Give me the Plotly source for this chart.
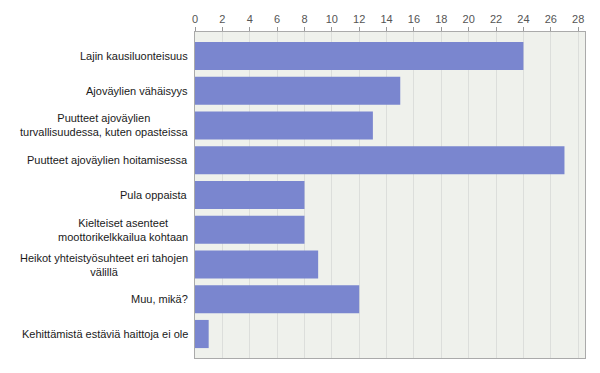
import plotly.graph_objects as go

categories = [
    "Lajin kausiluonteisuus",
    "Ajoväylien vähäisyys",
    "Puutteet ajoväylien<br>turvallisuudessa, kuten opasteissa",
    "Puutteet ajoväylien hoitamisessa",
    "Pula oppaista",
    "Kielteiset asenteet<br>moottorikelkkailua kohtaan",
    "Heikot yhteistyösuhteet eri tahojen<br>välillä",
    "Muu, mikä?",
    "Kehittämistä estäviä haittoja ei ole",
]
values = [24, 15, 13, 27, 8, 8, 9, 12, 1]
tick_values = list(range(0, 29, 2))

fig = go.Figure()
fig.add_trace(go.Bar(
    x=values, y=list(range(len(categories))), orientation="h",
    marker=dict(color="#7a86cf", line=dict(width=0)),
    width=0.81, hoverinfo="skip",
))

for i, c in enumerate(categories):
    fig.add_annotation(
        x=-0.013, xref="paper", y=i, yref="y", text=c, showarrow=False,
        xanchor="right", yanchor="middle", align="center",
        font=dict(family="Liberation Sans, Arial, sans-serif", size=11, color="#1a1a1a"),
    )

fig.update_layout(
    width=592, height=365,
    margin=dict(l=187, r=15, t=24, b=15, autoexpand=False),
    paper_bgcolor="white", plot_bgcolor="#eff1ec",
    showlegend=False,
    font=dict(family="Liberation Sans, Arial, sans-serif", size=11, color="#555555"),
)
fig.update_xaxes(
    side="top", range=[0, 28.5], tickvals=tick_values, automargin=False,
    showgrid=True, gridcolor="#dcdedb", gridwidth=1,
    ticks="outside", ticklen=4, tickcolor="#999999",
    showline=True, linecolor="#aaaaaa", mirror=True,
    tickfont=dict(size=11, color="#555555"), zeroline=False, fixedrange=True,
)
fig.update_yaxes(
    range=[len(categories) - 1 + 0.69, -0.69], showticklabels=False, automargin=False,
    showgrid=False, zeroline=False, showline=True, linecolor="#aaaaaa", mirror=True,
    fixedrange=True,
)
fig.write_html("out.html", config={"displayModeBar": False})
